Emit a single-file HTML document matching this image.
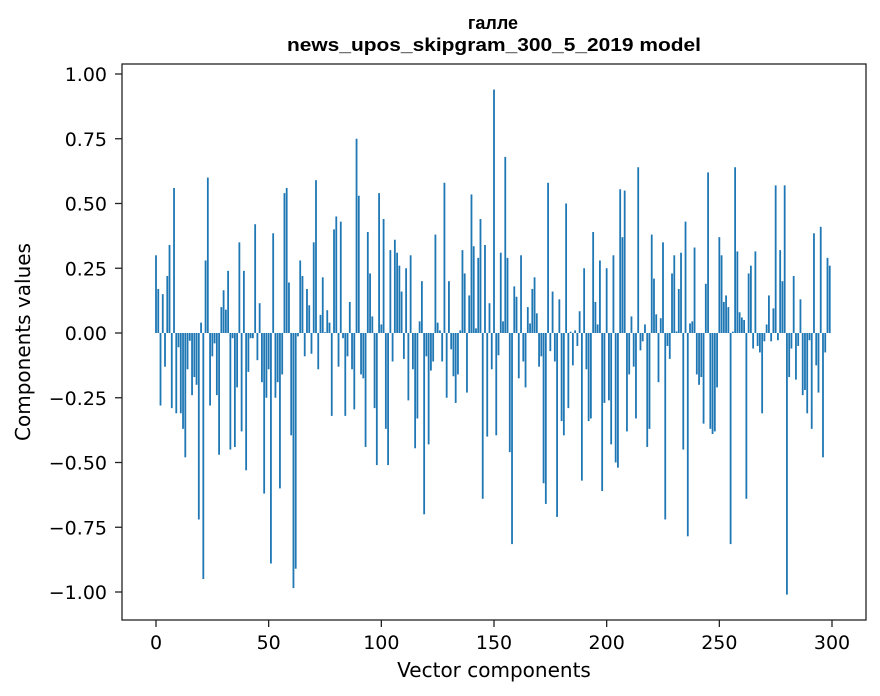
<!DOCTYPE html>
<html><head><meta charset="utf-8">
<style>
html,body{margin:0;padding:0;background:#fff;}
svg{display:block;font-family:"DejaVu Sans","Liberation Sans",sans-serif;}
.title{font-family:"Liberation Sans","DejaVu Sans",sans-serif;font-weight:bold;}
</style></head>
<body>
<svg id="chart" width="880" height="696" viewBox="0 0 880 696" xmlns="http://www.w3.org/2000/svg">
<rect width="880" height="696" fill="#fff"/>
<text class="title" x="493" y="29" text-anchor="middle" font-size="18">галле</text>
<text class="title" x="494" y="51" text-anchor="middle" font-size="18" textLength="414" lengthAdjust="spacingAndGlyphs">news_upos_skipgram_300_5_2019 model</text>
<g id="bars"></g>
<g id="xticks"></g>
<g id="yticks"></g>
<rect x="122" y="64" width="744" height="556" fill="none" stroke="#222" stroke-width="1.3"/>
<text x="494" y="677" text-anchor="middle" font-size="20">Vector components</text>
<text transform="translate(30,342) rotate(-90)" text-anchor="middle" font-size="20">Components values</text>
</svg>
<script>
const values = [
0.30,0.17,-0.28,0.15,-0.13,0.22,0.34,-0.29,0.56,-0.31,
-0.055,-0.31,-0.37,-0.48,-0.14,-0.03,-0.24,-0.17,-0.20,-0.72,
0.04,-0.95,0.28,0.60,-0.28,-0.09,-0.04,-0.24,-0.47,0.10,
0.165,0.09,0.24,-0.45,-0.02,-0.44,-0.21,0.35,-0.38,0.24,
-0.53,-0.15,-0.02,-0.02,0.42,-0.105,0.115,-0.19,-0.62,-0.25,
-0.14,-0.89,0.385,-0.25,-0.19,-0.60,-0.16,0.54,0.56,0.195,
-0.395,-0.985,-0.91,-0.013,0.28,0.22,-0.09,0.17,0.107,-0.08,
0.35,0.59,-0.14,0.07,0.215,0.003,0.088,0.04,-0.32,0.40,
0.45,-0.13,0.43,-0.02,-0.32,-0.09,0.12,-0.14,-0.295,0.75,
0.53,-0.16,-0.175,-0.44,0.39,0.23,0.064,-0.29,-0.51,0.54,
0.033,0.44,-0.37,-0.51,0.32,-0.11,0.36,0.31,0.26,0.16,
-0.10,0.25,-0.26,0.30,-0.14,-0.445,-0.33,0.045,0.20,-0.70,
-0.09,-0.43,-0.145,-0.11,0.38,0.04,0.01,-0.11,0.58,-0.25,
0.20,-0.063,-0.167,-0.27,-0.16,0.01,0.32,0.23,-0.23,0.145,
0.535,0.335,0.018,0.29,0.44,-0.64,0.34,-0.40,0.115,-0.14,
0.94,-0.395,-0.086,0.31,0.045,0.68,0.29,-0.46,-0.815,0.18,
0.14,-0.175,0.30,-0.11,-0.21,0.10,0.037,0.17,0.215,0.076,
-0.13,-0.09,-0.58,-0.66,0.58,-0.07,0.16,-0.11,-0.71,0.13,
-0.34,-0.395,0.50,-0.29,0.005,-0.125,0.01,-0.05,0.084,-0.57,
0.25,-0.14,-0.34,-0.33,0.39,0.12,0.033,0.28,-0.61,-0.27,
0.25,-0.26,-0.43,0.30,-0.50,-0.52,0.555,0.37,0.55,-0.38,
-0.16,0.064,-0.13,-0.33,0.64,-0.067,-0.032,0.033,-0.44,-0.37,
0.38,0.21,0.072,-0.19,0.057,0.35,-0.72,-0.05,-0.10,0.23,
0.30,0.006,0.17,0.31,-0.45,0.43,-0.785,0.037,0.045,0.33,
-0.16,-0.20,-0.17,-0.35,0.19,0.62,-0.37,-0.39,-0.38,-0.21,
0.37,0.30,0.12,0.145,0.10,-0.815,0.005,0.64,0.315,0.08,
0.06,0.05,-0.64,0.23,0.26,-0.06,0.315,-0.05,-0.075,-0.31,
-0.032,0.033,0.145,-0.032,0.095,0.57,-0.028,0.32,0.20,0.57,
-1.01,-0.17,-0.06,0.22,-0.18,-0.05,0.13,-0.24,-0.22,-0.31,
-0.028,-0.37,0.385,-0.125,-0.23,0.41,-0.48,-0.075,0.29,0.26
];
const xTickLabels = [0,50,100,150,200,250,300];
const yTickLabels = [-1.00,-0.75,-0.50,-0.25,0.00,0.25,0.50,0.75,1.00];

const NS = "http://www.w3.org/2000/svg";
function xScale(v){ return 156 + v * (676/300); }
function yScale(v){ return 333 - v * 259; }

const barsG = document.getElementById('bars');
values.forEach(function(v, i){
  const r = document.createElementNS(NS, 'rect');
  const y0 = yScale(0), y1 = yScale(v);
  r.setAttribute('x', (xScale(i) - 0.9).toFixed(2));
  r.setAttribute('width', '1.8');
  r.setAttribute('y', Math.min(y0, y1).toFixed(2));
  r.setAttribute('height', Math.max(Math.abs(y1 - y0), 0.3).toFixed(2));
  r.setAttribute('fill', '#1f77b4');
  
  
  barsG.appendChild(r);
});

const xg = document.getElementById('xticks');
xTickLabels.forEach(function(t){
  const x = xScale(t);
  const l = document.createElementNS(NS, 'line');
  l.setAttribute('x1', x); l.setAttribute('x2', x);
  l.setAttribute('y1', 620); l.setAttribute('y2', 627);
  l.setAttribute('stroke', '#222'); l.setAttribute('stroke-width', '1.3');
  
  
  xg.appendChild(l);
  const tx = document.createElementNS(NS, 'text');
  tx.setAttribute('x', x); tx.setAttribute('y', 649);
  tx.setAttribute('text-anchor', 'middle'); tx.setAttribute('font-size', '19');
  tx.textContent = String(t);
  
  
  xg.appendChild(tx);
});

const yg = document.getElementById('yticks');
yTickLabels.forEach(function(t){
  const y = yScale(t);
  const l = document.createElementNS(NS, 'line');
  l.setAttribute('x1', 115); l.setAttribute('x2', 122);
  l.setAttribute('y1', y); l.setAttribute('y2', y);
  l.setAttribute('stroke', '#222'); l.setAttribute('stroke-width', '1.3');
  
  
  yg.appendChild(l);
  const tx = document.createElementNS(NS, 'text');
  tx.setAttribute('x', 107); tx.setAttribute('y', y + 7);
  tx.setAttribute('text-anchor', 'end'); tx.setAttribute('font-size', '19');
  tx.textContent = (t < 0 ? '\u2212' : '') + Math.abs(t).toFixed(2);
  
  
  yg.appendChild(tx);
});
</script>
</body></html>
